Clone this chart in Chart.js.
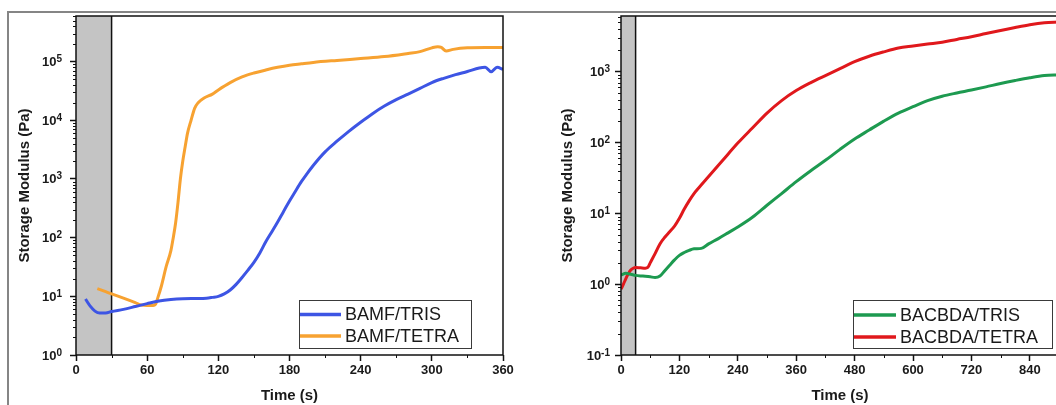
<!DOCTYPE html>
<html>
<head>
<meta charset="utf-8">
<script src="https://cdn.jsdelivr.net/npm/chart.js@4.4.1/dist/chart.umd.min.js"></script>
<style>
body { margin: 0; background: #fff; width: 1056px; height: 405px; overflow: hidden; position: relative; }
#frame { position: absolute; left: 7px; top: 11px; width: 1200px; height: 600px; border-top: 2px solid #858585; border-left: 2px solid #858585; }
#left { position: absolute; left: 0; top: 0; }
#right { position: absolute; left: 540px; top: 0; }
</style>
</head>
<body>
<div id="frame"></div>
<canvas id="left" width="540" height="405"></canvas>
<canvas id="right" width="530" height="405"></canvas>
<script>
// BAMF panel (0-360 s)
var bamfLabels = ['BAMF/TRIS', 'BAMF/TETRA'];
var bamfTrisTime = [8, 12, 16, 20, 25, 30, 40, 50, 60, 70, 80, 90, 100, 110, 115, 120, 125, 130, 135, 140, 145, 150, 155, 160, 165, 170, 175, 180, 185, 190, 195, 200, 210, 220, 230, 240, 250, 260, 270, 280, 290, 300, 310, 320, 330, 340, 345, 350, 355, 360];
var bamfTrisG = [9.0, 6.8, 5.6, 5.2, 5.2, 5.5, 6.0, 6.7, 7.5, 8.3, 8.8, 9.1, 9.2, 9.3, 9.6, 10.0, 11, 12.8, 16, 21, 28, 38, 55, 85, 125, 185, 280, 420, 620, 900, 1250, 1700, 2900, 4400, 6500, 9300, 13000, 17500, 22500, 28000, 35000, 44000, 52000, 60000, 68000, 78000, 80000, 67000, 80000, 74000];
var bamfTetraTime = [18, 25, 30, 40, 50, 55, 60, 65, 67, 69, 72, 76, 80, 82, 84, 86, 88, 90, 92, 94, 97, 100, 103, 108, 115, 120, 130, 140, 150, 160, 170, 180, 190, 200, 220, 240, 260, 280, 290, 300, 305, 308, 312, 318, 330, 345, 360];
var bamfTetraG = [13.5, 12, 11, 9.3, 7.8, 7.1, 7.0, 7.0, 7.3, 9.5, 15, 32, 60, 100, 180, 400, 1000, 2000, 3500, 6000, 10000, 16000, 20000, 24000, 28000, 33000, 44000, 55000, 64000, 72000, 80000, 87000, 92000, 97000, 105000, 113000, 122000, 138000, 148000, 172000, 180000, 175000, 152000, 162000, 172000, 174000, 174000];
var bamfTimeTicks = [0, 60, 120, 180, 240, 300, 360];
var bamfDecades = [0, 1, 2, 3, 4, 5];

// BACBDA panel (0-900 s)
var bacbdaLabels = ['BACBDA/TRIS', 'BACBDA/TETRA'];
var bacbdaTrisTime = [0, 10, 20, 30, 45, 60, 70, 80, 90, 100, 110, 120, 130, 140, 150, 165, 180, 200, 220, 240, 270, 300, 330, 360, 390, 420, 450, 480, 510, 540, 570, 600, 630, 660, 690, 720, 750, 780, 810, 840, 870, 900];
var bacbdaTrisG = [1.35, 1.42, 1.38, 1.33, 1.3, 1.27, 1.24, 1.3, 1.55, 1.85, 2.2, 2.55, 2.8, 3.0, 3.15, 3.2, 3.7, 4.4, 5.3, 6.4, 8.8, 13, 19, 28, 40, 56, 80, 112, 150, 200, 260, 320, 390, 450, 500, 550, 610, 680, 750, 820, 880, 900];
var bacbdaTetraTime = [0, 5, 10, 15, 20, 25, 30, 40, 50, 55, 60, 70, 80, 90, 100, 110, 120, 130, 140, 150, 160, 180, 210, 240, 270, 300, 330, 360, 390, 420, 450, 480, 510, 540, 570, 600, 630, 660, 690, 720, 750, 780, 810, 840, 870, 900];
var bacbdaTetraG = [0.85, 1.0, 1.2, 1.4, 1.58, 1.68, 1.72, 1.7, 1.68, 1.72, 2.0, 2.7, 3.7, 4.6, 5.5, 6.6, 8.5, 11.5, 15, 19, 23, 33, 57, 98, 160, 260, 390, 540, 700, 880, 1100, 1380, 1650, 1900, 2150, 2300, 2450, 2600, 2850, 3100, 3450, 3800, 4200, 4600, 4900, 5000];
var bacbdaTimeTicks = [0, 120, 240, 360, 480, 600, 720, 840];
var bacbdaDecades = [-1, 0, 1, 2, 3];

var FONT = '"Liberation Sans", Arial, sans-serif';

function points(t, g) {
	return t.map(function(v, i) { return {x: v, y: g[i]}; });
}

// grey pre-shear band, plot frame, minor ticks and 10^n labels
var panelDecor = {
	id: 'panelDecor',
	beforeDatasetsDraw: function(chart, args, o) {
		var a = chart.chartArea, ctx = chart.ctx;
		var x1 = chart.scales.x.getPixelForValue(o.shadeUntil);
		ctx.save();
		ctx.fillStyle = '#c4c4c4';
		ctx.fillRect(a.left, a.top, x1 - a.left, a.bottom - a.top);
		ctx.strokeStyle = '#111';
		ctx.lineWidth = 1.5;
		ctx.beginPath();
		ctx.moveTo(x1, a.top);
		ctx.lineTo(x1, a.bottom);
		ctx.stroke();
		ctx.restore();
	},
	afterDatasetsDraw: function(chart, args, o) {
		var a = chart.chartArea, ctx = chart.ctx, xs = chart.scales.x, ys = chart.scales.y;
		ctx.save();
		ctx.strokeStyle = '#111';
		ctx.lineWidth = 1.5;
		ctx.strokeRect(a.left, a.top, a.right - a.left, a.bottom - a.top);
		ctx.lineWidth = 1;
		ctx.beginPath();
		var e, m, v, p;
		for (e = Math.floor(Math.log10(ys.min)); e < Math.ceil(Math.log10(ys.max)); e++) {
			for (m = 2; m <= 9; m++) {
				v = m * Math.pow(10, e);
				if (v > ys.max) break;
				p = Math.round(ys.getPixelForValue(v)) + 0.5;
				ctx.moveTo(a.left - 3, p);
				ctx.lineTo(a.left, p);
			}
		}
		var ticks = xs.ticks, step = ticks[1].value - ticks[0].value;
		for (v = step / 2; v < xs.max; v += step) {
			p = Math.round(xs.getPixelForValue(v)) + 0.5;
			ctx.moveTo(p, a.bottom);
			ctx.lineTo(p, a.bottom + 3);
		}
		ctx.stroke();

		// decade labels with a raised exponent
		ctx.fillStyle = '#1a1a1a';
		ctx.textAlign = 'left';
		ctx.textBaseline = 'alphabetic';
		ys.ticks.forEach(function(t) {
			var y = ys.getPixelForValue(t.value);
			var exp = String(Math.round(Math.log10(t.value)));
			ctx.font = 'bold 10px ' + FONT;
			var ew = ctx.measureText(exp).width;
			ctx.font = 'bold 13px ' + FONT;
			var bw = ctx.measureText('10').width;
			var right = a.left - o.labelGap;
			ctx.fillText('10', right - ew - bw, y + 4.5);
			ctx.font = 'bold 10px ' + FONT;
			ctx.fillText(exp, right - ew, y + 0.5);
		});
		ctx.restore();
	}
};

// boxed legend sitting inside the plot
var boxLegend = {
	id: 'boxLegend',
	afterDraw: function(chart, args, o) {
		var ctx = chart.ctx;
		ctx.save();
		ctx.fillStyle = '#fff';
		ctx.fillRect(o.left, o.top, o.width, o.height);
		ctx.strokeStyle = '#3a3a3a';
		ctx.lineWidth = 1;
		ctx.strokeRect(o.left + 0.5, o.top + 0.5, o.width, o.height);
		ctx.font = '18px ' + FONT;
		ctx.textBaseline = 'middle';
		chart.data.datasets.forEach(function(ds, i) {
			var y = o.top + o.firstRow + i * o.rowGap;
			ctx.strokeStyle = ds.borderColor;
			ctx.lineWidth = 3.5;
			ctx.beginPath();
			ctx.moveTo(o.left + 1, y);
			ctx.lineTo(o.left + 1 + o.sample, y);
			ctx.stroke();
			ctx.fillStyle = '#1a1a1a';
			ctx.fillText(ds.label, o.left + o.sample + 5, y + 1);
		});
		ctx.restore();
	}
};

function buildChart(id, labels, colors, series, timeTicks, xMax, decades, yMax, pad, titlePad, labelGap, legend) {
	var yMin = Math.pow(10, decades[0]);
	return new Chart(document.getElementById(id), {
		type: 'scatter',
		data: {
			datasets: series.map(function(s, i) {
				return {
					label: labels[i],
					data: points(s[0], s[1]),
					showLine: true,
					borderColor: colors[i],
					backgroundColor: colors[i],
					borderWidth: 3,
					pointRadius: 0,
					cubicInterpolationMode: 'monotone'
				};
			})
		},
		plugins: [panelDecor, boxLegend],
		options: {
			responsive: false,
			devicePixelRatio: 1,
			animation: false,
			layout: { padding: pad },
			plugins: {
				legend: { display: false },
				tooltip: { enabled: false },
				panelDecor: { shadeUntil: 30, labelGap: labelGap },
				boxLegend: legend
			},
			scales: {
				x: {
					type: 'linear',
					min: 0,
					max: xMax,
					afterBuildTicks: function(scale) {
						scale.ticks = timeTicks.map(function(v) { return {value: v}; });
					},
					afterFit: function(scale) { scale.height = 50; },
					grid: { drawOnChartArea: false, drawTicks: true, tickLength: 6, color: '#111', tickWidth: 1.5 },
					border: { display: false },
					ticks: { padding: 2, color: '#1a1a1a', font: { family: FONT, size: 13, weight: 'bold' } },
					title: { display: true, text: 'Time (s)', color: '#1a1a1a', padding: { top: 0, bottom: 0 }, font: { family: FONT, size: 15, weight: 'bold' } }
				},
				y: {
					type: 'logarithmic',
					min: yMin,
					max: yMax,
					bounds: 'data',
					afterBuildTicks: function(scale) {
						scale.ticks = decades.map(function(e) { return {value: Math.pow(10, e)}; });
					},
					afterFit: function(scale) { scale.width = 68; },
					grid: { drawOnChartArea: false, drawTicks: true, tickLength: 6, color: '#111', tickWidth: 1.5 },
					border: { display: false },
					ticks: { display: false },
					title: { display: true, text: 'Storage Modulus (Pa)', color: '#1a1a1a', padding: { top: titlePad, bottom: 0 }, font: { family: FONT, size: 15, weight: 'bold' } }
				}
			}
		}
	});
}

buildChart('left', bamfLabels, ['#3d55e4', '#f7a231'],
	[[bamfTrisTime, bamfTrisG], [bamfTetraTime, bamfTetraG]],
	bamfTimeTicks, 360, bamfDecades, 6.0e5,
	{ left: 8, top: 16, right: 37, bottom: 0 }, 7.5, 14,
	{ left: 299, top: 300, width: 172, height: 48, firstRow: 14.5, rowGap: 21.5, sample: 41 });

buildChart('right', bacbdaLabels, ['#1d9a50', '#e0181c'],
	[[bacbdaTrisTime, bacbdaTrisG], [bacbdaTetraTime, bacbdaTetraG]],
	bacbdaTimeTicks, 900, bacbdaDecades, 6100,
	{ left: 13, top: 16, right: 11, bottom: 0 }, 6, 11,
	{ left: 313, top: 300, width: 199, height: 48, firstRow: 15, rowGap: 22, sample: 42 });
</script>
</body>
</html>
